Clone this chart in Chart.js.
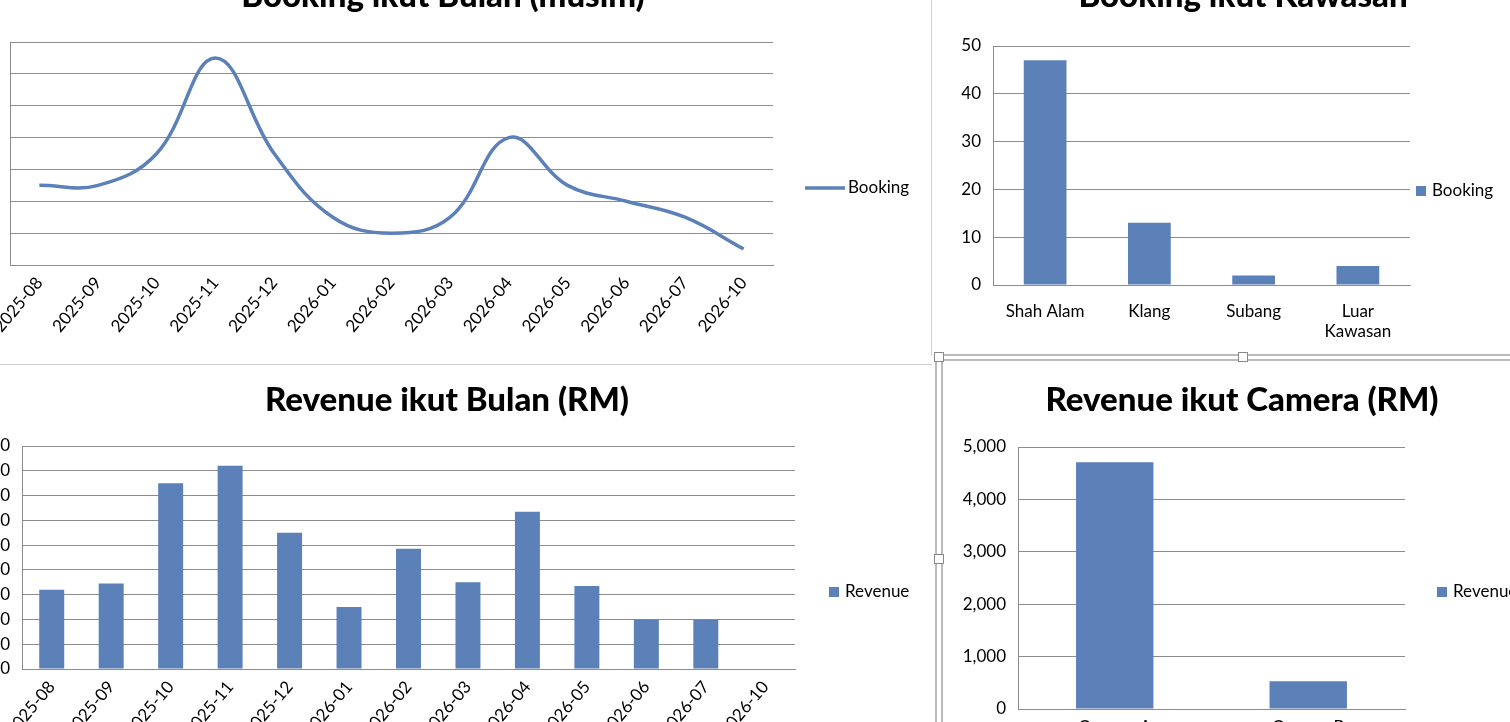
<!DOCTYPE html>
<html><head><meta charset="utf-8">
<script src="https://cdn.jsdelivr.net/npm/chart.js@4"></script>
<style>
html,body{margin:0;padding:0;width:1510px;height:722px;overflow:hidden;background:#fff;position:relative;font-family:Lato,sans-serif}
.box{position:absolute}
.ln{position:absolute;background:#d0d0d0}
.hd{position:absolute;width:10px;height:10px;border:1px solid #888;background:#fff;box-sizing:border-box}
</style></head><body>
<div class="ln" style="left:931px;top:0;width:1px;height:356px"></div>
<div class="ln" style="left:0;top:364px;width:932px;height:1px"></div>
<div class="ln" style="left:935px;top:356px;width:2px;height:366px;background:#bbb"></div>
<div class="ln" style="left:941px;top:356px;width:2px;height:366px;background:#bbb"></div>
<div class="ln" style="left:935px;top:354px;width:575px;height:2px;background:#bbb"></div>
<div class="ln" style="left:941px;top:359px;width:569px;height:2px;background:#bbb"></div>
<div class="hd" style="left:934px;top:352px"></div>
<div class="hd" style="left:1238px;top:352px"></div>
<div class="hd" style="left:934px;top:554px"></div>

<script>
const monthLabels = ["2025-08","2025-09","2025-10","2025-11","2025-12","2026-01","2026-02","2026-03","2026-04","2026-05","2026-06","2026-07","2026-10"];
const bookingMonthly = [5,5,7,13,7,3,2,3,8,5,4,3,1];
const areaLabels = ["Shah Alam","Klang","Subang",["Luar","Kawasan"]];
const bookingArea = [47,13,2,4];
const revenueMonthly = [320,345,750,820,550,250,485,350,635,335,200,200,0];
const cameraLabels = ["Camera A","Camera B"];
const revenueCamera = [4710,530];

const BLUE = "#5B81B8", GRID = "#8c8c8c", FONT = "Lato";

function make(spec){
  const {L,T,R,B,area} = spec;
  const div = document.createElement('div');
  div.className='box';
  Object.assign(div.style,{left:L+'px',top:T+'px',width:(R-L)+'px',height:(B-T)+'px'});
  const cv = document.createElement('canvas');
  div.appendChild(cv); document.body.appendChild(div);
  const yW = area.l - L, xH = B - area.b;
  const deco = {
    id:'deco',
    afterDraw(c){
      const ctx=c.ctx;
      ctx.save();
      ctx.fillStyle='#000';
      ctx.font='900 33px '+FONT; ctx.textAlign='center'; ctx.textBaseline='middle';
      ctx.fillText(spec.title, spec.tx - L, spec.ty - T);
      ctx.font='17px '+FONT; ctx.textAlign='left';
      const lx = spec.lx - L, ly = spec.ly - T;
      if(spec.type==='line'){
        ctx.strokeStyle=BLUE; ctx.lineWidth=3.5;
        ctx.beginPath(); ctx.moveTo(lx,ly); ctx.lineTo(lx+40,ly); ctx.stroke();
        ctx.fillText(spec.label, lx+43, ly);
      } else {
        ctx.fillStyle=BLUE; ctx.fillRect(lx,ly-5,10,10);
        ctx.fillStyle='#000'; ctx.fillText(spec.label, lx+16, ly);
      }
      ctx.restore();
    }
  };
  new Chart(cv,{
    type: spec.type,
    data:{labels:spec.labels,datasets:[{label:spec.label,data:spec.data,
      borderColor:BLUE,backgroundColor:BLUE,borderWidth:spec.type==='line'?3.5:0,
      tension:0.4,pointRadius:0,fill:false,
      barPercentage:spec.bp||0.42,categoryPercentage:1}]},
    options:{
      responsive:true,maintainAspectRatio:false,animation:false,
      layout:{padding:{top:area.t - T,right:R - area.r,left:0,bottom:0}},
      plugins:{legend:{display:false},title:{display:false},tooltip:{enabled:false}},
      scales:{
        x:{offset:true,grid:{display:false,drawTicks:false},border:{color:GRID,width:1},
          ticks:{color:'#000',font:{family:FONT,size:17},maxRotation:spec.rot,minRotation:spec.rot,autoSkip:false,padding:spec.xpad||8},
          afterFit(s){s.height=xH;}},
        y:{min:0,max:spec.max,grid:{color:GRID,drawTicks:false},border:{color:GRID,display:true},
          ticks:{stepSize:spec.step,color:'#000',font:{family:FONT,size:17},padding:12,
            callback:v=>v.toLocaleString('en-US')},
          afterFit(s){s.width=yW;}}
      }
    },
    plugins:[deco]
  });
}

make({type:'line',L:-70,T:-40,R:932,B:355,area:{l:10,t:42,r:773,b:265},labels:monthLabels,data:bookingMonthly,
  max:14,step:2,rot:50,title:"Booking ikut Bulan (musim)",tx:443,ty:-4,label:"Booking",lx:805,ly:188});
make({type:'bar',L:940,T:-40,R:1700,B:355,area:{l:993,t:46,r:1410,b:285},labels:areaLabels,data:bookingArea,
  max:50,step:10,rot:0,bp:0.41,xpad:16,title:"Booking ikut Kawasan",tx:1243,ty:-4,label:"Booking",lx:1416,ly:191});
make({type:'bar',L:-60,T:366,R:932,B:820,area:{l:22,t:446,r:795,b:669},labels:monthLabels,data:revenueMonthly,
  max:900,step:100,rot:50,bp:0.42,title:"Revenue ikut Bulan (RM)",tx:447,ty:400,label:"Revenue",lx:829,ly:592});
make({type:'bar',L:944,T:366,R:1700,B:820,area:{l:1018,t:447,r:1405,b:709},labels:cameraLabels,data:revenueCamera,
  max:5000,step:1000,rot:0,bp:0.4,title:"Revenue ikut Camera (RM)",tx:1242,ty:400,label:"Revenue",lx:1437,ly:592});
</script>
</body></html>
